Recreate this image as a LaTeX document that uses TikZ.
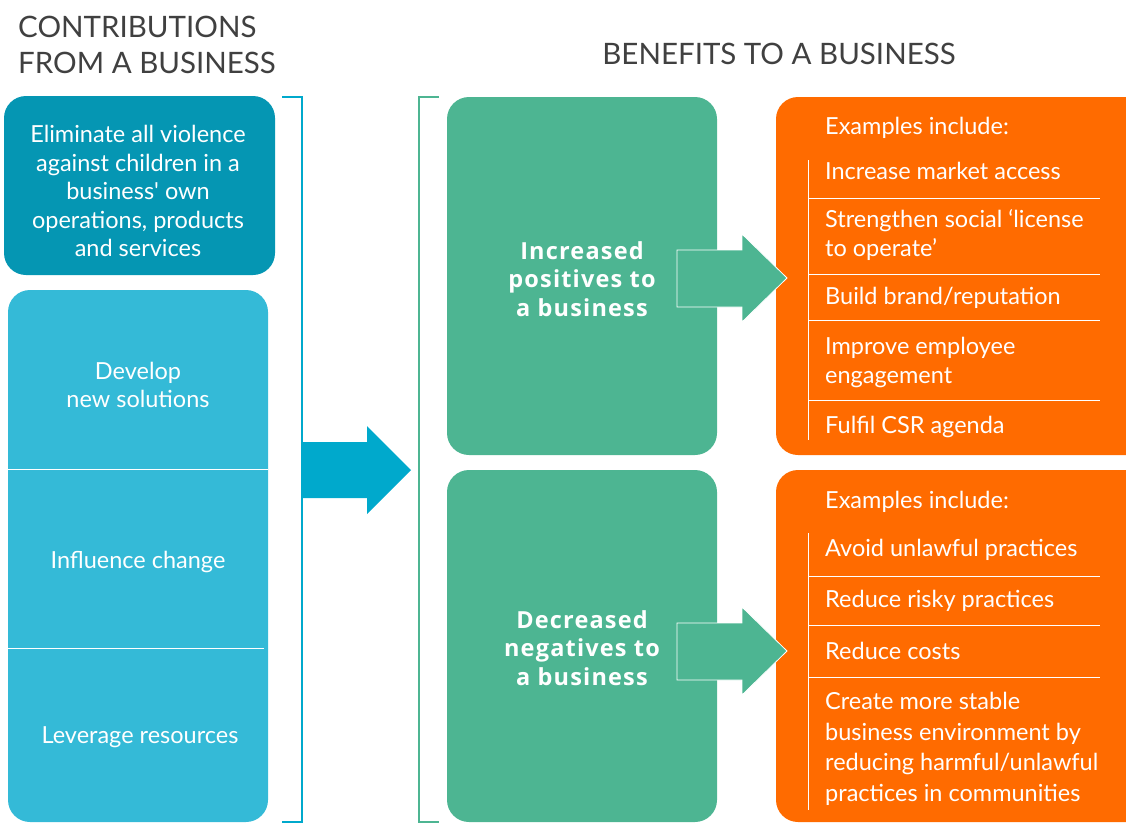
\documentclass[tikz,border=0pt]{standalone}
\usepackage{fontspec}
\setmainfont{Lato}
\newfontfamily\headfont[LetterSpace=5]{Open Sans}

\definecolor{headgray}{HTML}{404040}
\definecolor{tealdark}{HTML}{0596B3}
\definecolor{tealight}{HTML}{34BAD7}
\definecolor{bracketblue}{HTML}{00A9CC}
\definecolor{benefitgreen}{HTML}{4DB592}
\definecolor{exampleorange}{HTML}{FF6B00}

\tikzset{
	heading/.style={text=headgray, inner sep=0pt, font=\fontsize{29.5}{36}\selectfont},
	boxtext/.style={text=white, align=center, inner sep=0pt, font=\fontsize{23.5}{28.5}\selectfont},
	bigtext/.style={text=white, align=center, inner sep=0pt, font=\headfont\fontsize{23.5}{28.5}\selectfont\bfseries},
	listtext/.style={text=white, anchor=west, align=left, inner sep=0pt, font=\fontsize{23.5}{29}\selectfont},
	sepline/.style={draw=white, line width=0.9pt},
}

\begin{document}
\begin{tikzpicture}[x=1pt, y=-1pt]
			%%%%% START %%%%%
			\useasboundingbox (0,0) rectangle (1126,823);
			\clip (0,0) rectangle (1126,823);
			
			% headings
			\node[heading, anchor=base west] (contribA) at (18,37) {CONTRIBUTIONS};
			\node[heading, anchor=base west] (contribB) at (18,73) {FROM A BUSINESS};
			\node[heading, anchor=base] (benefits) at (779,64) {BENEFITS TO A BUSINESS};
			
			% contributions column
			\fill[tealdark, rounded corners=22] (4,96) rectangle (275,275);
			\node[boxtext] (eliminate) at (138,191) {Eliminate all violence\\against children in a\\business\textquotesingle{} own\\operations, products\\and services};
			
			\fill[tealight, rounded corners=22] (8,290) rectangle (268,822);
			\draw[sepline] (8,469) -- (268,469);
			\draw[sepline] (8,648) -- (264,648);
			\node[boxtext] (develop) at (138,385) {Develop\\new solutions};
			\node[boxtext] (influence) at (138,562) {Influence change};
			\node[boxtext] (leverage) at (140,737) {Leverage resources};
			
			% bracket and big arrow
			\draw[bracketblue, line width=2pt] (282,97) -- (302,97) -- (302,822) -- (282,822);
			\fill[bracketblue] (302,442) -- (367,442) -- (367,426) -- (411,470) -- (367,514) -- (367,498) -- (302,498) -- cycle;
			\draw[benefitgreen, line width=2pt] (439,97) -- (419,97) -- (419,822) -- (439,822);
			
			% benefit boxes
			\fill[benefitgreen, rounded corners=22] (447,97) rectangle (717,455);
			\fill[benefitgreen, rounded corners=22] (447,470) rectangle (717,822);
			\node[bigtext] (positives) at (582,279) {Increased\\positives to\\a business};
			\node[bigtext] (negatives) at (582,648) {Decreased\\negatives to\\a business};
			
			% example boxes
			\fill[exampleorange, rounded corners=22] (776,97) rectangle (1150,455);
			\fill[exampleorange, rounded corners=22] (776,470) rectangle (1150,822);
			
			\node[listtext] (exA) at (825,128) {Examples include:};
			\draw[sepline] (808,160) -- (808,440);
			\draw[sepline] (808,198) -- (1100,198);
			\draw[sepline] (808,274) -- (1100,274);
			\draw[sepline] (808,320) -- (1100,320);
			\draw[sepline] (808,400) -- (1100,400);
			\node[listtext] (market) at (825,171) {Increase market access};
			\node[listtext] (license) at (825,235) {Strengthen social `license\\to operate'};
			\node[listtext] (brand) at (825,298) {Build brand/reputation};
			\node[listtext] (employee) at (825,362) {Improve employee\\engagement};
			\node[listtext] (csr) at (825,427) {Fulfil CSR agenda};
			
			\node[listtext] (exB) at (825,502) {Examples include:};
			\draw[sepline] (808,533) -- (808,810);
			\draw[sepline] (808,576) -- (1100,576);
			\draw[sepline] (808,625) -- (1100,625);
			\draw[sepline] (808,677) -- (1100,677);
			\node[listtext] (unlawful) at (825,550) {Avoid unlawful practices};
			\node[listtext] (risky) at (825,601) {Reduce risky practices};
			\node[listtext] (costs) at (825,651) {Reduce costs};
			\node[listtext, font=\fontsize{23.5}{30.5}\selectfont] (stable) at (825,749) {Create more stable\\business environment by\\reducing harmful/unlawful\\practices in communities};
			
			% green arrows
			\draw[white, fill=benefitgreen, line width=0.8pt] (677,250) -- (742,250) -- (742,234) -- (787,278) -- (742,322) -- (742,307) -- (677,307) -- cycle;
			\draw[white, fill=benefitgreen, line width=0.8pt] (677,623) -- (742,623) -- (742,607) -- (787,651) -- (742,695) -- (742,680) -- (677,680) -- cycle;
			
			%%%%% END %%%%%
\end{tikzpicture}
\end{document}
